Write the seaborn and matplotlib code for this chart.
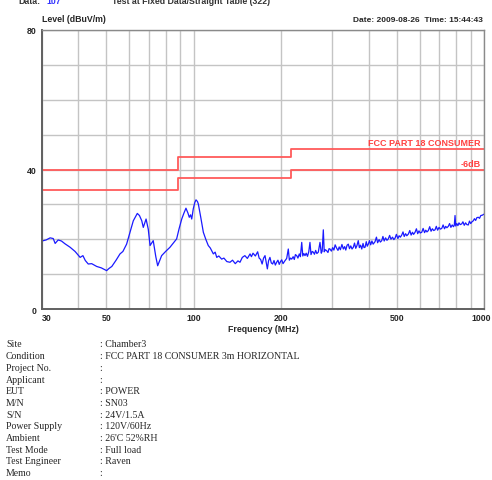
import matplotlib
matplotlib.use("Agg")
import matplotlib.pyplot as plt
import matplotlib.transforms as mtransforms
import seaborn as sns
import pandas as pd

# ---------------- data ----------------
freq_mhz = [
    30.0, 31.0, 32.0, 32.8, 33.3, 34.1, 35.0, 36.0, 37.5, 39.0, 40.6, 41.5, 42.3, 43.3,
    44.5, 46.3, 48.0, 50.1, 51.0, 52.2, 54.0, 55.7, 57.0, 58.7, 60.3, 61.9, 63.0, 63.9,
    65.0, 66.2, 67.0, 68.5, 69.7, 70.7, 72.5, 74.0, 75.1, 77.5, 80.0, 82.8, 85.0, 87.3,
    89.0, 90.9, 92.5, 94.0, 95.5, 96.5, 97.5, 98.4, 99.6, 100.8, 101.8, 103.0, 103.7,
    105.7, 107.9, 110.0, 112.2, 114.0, 116.8, 118.5, 120.0, 122.0, 124.8, 127.0, 130.0,
    133.3, 136.0, 139.0, 142.0, 144.3, 147.0, 150.0, 153.0, 156.3, 158.0, 160.0, 163.0,
    166.0, 168.0,
    170, 172, 174, 176, 178, 179.3, 181, 183, 185, 187, 189, 191, 193, 195, 197, 199,
    201, 203, 206, 209, 211.7, 213.5, 215.5, 217.5, 220, 222, 224, 226.3, 228.5, 231,
    233, 235.5, 237.5, 239.5, 241.7, 244, 246.5, 249, 251.4, 253.5, 256, 258.2, 260.5,
    263, 265.5, 268.6, 272.2, 275, 277, 279.5, 281.5, 284, 287.1, 290, 292.5, 294.7,
    298, 301, 304, 307, 310.8, 314, 317, 320, 324, 327.6, 331, 334, 337.5, 340.8, 344,
    347.5, 351, 354.6, 358, 361.5, 365, 368.8, 372, 375.5, 379.2, 383, 386, 389.2, 393,
    396, 399.4, 403, 407, 411, 415, 421.2, 426, 430, 435, 439.5, 444.2, 448.5, 453, 458,
    463, 468, 473, 478, 484, 489, 493.7, 499, 505, 510, 515, 520.6, 526, 531, 537, 542,
    548.8, 555, 561, 567, 572, 578.7, 585, 591, 597, 603, 610.2, 617, 624, 630, 636, 643,
    650, 657, 664, 671, 678.1, 685, 692, 700, 707, 715.2, 723, 731, 738, 745, 753.3, 761,
    769, 777, 785, 790, 794.7, 799, 806, 813, 820, 828, 837.9, 846, 855, 864, 873, 882.9,
    891, 900, 909, 918.5, 927, 936, 945, 955.9, 965, 975, 986.8, 1000,
]
level_dbuv = [
    19.5, 19.8, 20.4, 20.2, 18.8, 19.8, 19.5, 18.7, 17.7, 16.5, 14.8, 15.3, 13.9, 12.9,
    13.0, 12.2, 11.8, 11.0, 11.6, 12.2, 14.0, 15.8, 16.5, 18.6, 22.0, 25.3, 26.5, 27.4,
    26.8, 25.3, 23.4, 25.8, 22.9, 18.2, 19.6, 15.0, 12.4, 15.3, 16.5, 17.7, 18.9, 20.1,
    23.0, 25.8, 27.5, 28.9, 27.5, 26.3, 27.0, 25.8, 28.7, 30.5, 31.3, 30.8, 30.1,
    26.3, 22.0, 20.0, 18.2, 17.5, 15.8, 16.3, 14.8, 15.2, 14.3, 14.6, 13.6,
    13.4, 14.0, 13.0, 13.8, 13.4, 14.8, 15.3, 14.5, 15.8, 15.0, 16.0, 15.2,
    16.4, 14.6,
    14.2, 12.9, 14.6, 15.3, 13.0, 11.5, 13.8, 14.8, 13.2, 12.9, 13.9, 12.6, 13.4, 14.0, 12.8, 13.6,
    14.1, 13.0, 13.8, 14.5, 17.2, 14.0, 14.6, 14.3, 15.0, 14.2, 15.6, 15.3, 14.6, 15.8,
    15.0, 19.1, 15.2, 15.9, 15.3, 16.0, 15.1, 16.4, 19.1, 15.6, 16.5, 16.3, 15.7,
    16.8, 15.9, 16.3, 19.1, 16.0, 16.6, 22.7, 16.4, 17.0, 16.7, 16.2, 17.3, 17.2,
    16.6, 17.6, 16.9, 18.4, 17.4, 16.8, 17.8, 17.0, 18.5, 17.2, 17.9, 16.9, 18.3, 18.6, 17.3,
    18.1, 17.2, 17.7, 18.9, 17.4, 18.2, 19.6, 17.6, 18.3, 17.2, 18.8, 17.6, 17.7, 19.3,
    18.0, 18.6, 19.6, 18.4, 19.5, 18.6, 19.3, 20.6, 19.0, 19.9, 19.2, 19.6, 20.8, 19.5, 20.4,
    19.7, 20.1, 21.1, 20.0, 20.6, 19.9, 20.3, 21.4, 20.2, 21.0, 20.6, 21.2, 22.1, 20.8, 21.6, 21.0,
    21.5, 22.5, 21.2, 22.0, 21.4, 22.0, 23.0, 21.6, 22.4, 21.8, 22.0, 23.1, 21.9, 22.6, 22.1, 22.5,
    23.6, 22.3, 23.0, 22.5, 22.7, 23.7, 22.6, 23.4, 22.9, 23.1, 24.1, 23.0, 23.7, 23.3, 23.7, 24.5,
    23.4, 24.1, 23.6, 24.0, 26.8, 23.8, 24.5, 23.9, 24.7, 24.2, 24.4, 25.0, 24.0, 24.7, 24.2, 24.1,
    25.2, 24.5, 25.0, 25.3, 25.9, 25.4, 26.2, 26.3, 26.0, 26.8, 26.9, 27.2,
]
limit_freq = [30, 88, 216, 1000]
limit_level = [40, 43.5, 46, 46]
margin_level = [34, 37.5, 40, 40]

major_ticks = [30, 50, 100, 200, 500, 1000]
major_labels = ["30", "50", "100", "200", "500", "1000"]
grid_ticks = [40, 60, 70, 80, 90, 300, 400, 600, 700, 800, 900]
y_ticks = [0, 40, 80]

info_labels = ["Site", "Condition", "Project No.", "Applicant", "EUT", "M/N", "S/N",
               "Power Supply", "Ambient", "Test Mode", "Test Engineer", "Memo"]
info_values = ["Chamber3", "FCC PART 18 CONSUMER 3m HORIZONTAL", "", "", "POWER",
               "SN03", "24V/1.5A", "120V/60Hz", "26'C 52%RH", "Full load", "Raven", ""]

# ---------------- plot ----------------
sns.set_style("white")
plt.rcParams["font.family"] = ["Liberation Sans", "DejaVu Sans"]

W, H = 492, 481
fig = plt.figure(figsize=(W / 100, H / 100), dpi=100)
ax = fig.add_axes([42 / W, 1 - 310 / H, (484 - 42) / W, (310 - 31) / H])

meas = pd.DataFrame({"f": freq_mhz, "lvl": level_dbuv})
lim = pd.DataFrame({"f": limit_freq, "lim": limit_level, "mar": margin_level})

sns.lineplot(data=lim, x="f", y="lim", ax=ax, color="#ff5a5a", lw=1.3,
             drawstyle="steps-post", sort=False, estimator=None)
sns.lineplot(data=lim, x="f", y="mar", ax=ax, color="#ff5a5a", lw=1.3,
             drawstyle="steps-post", sort=False, estimator=None)
sns.lineplot(data=meas, x="f", y="lvl", ax=ax, color="#1a1aff", lw=0.9,
             sort=False, estimator=None)

ax.set_xscale("log")
ax.set_xlim(30, 1000)
ax.set_ylim(0, 80)
ax.set_xticks(major_ticks)
ax.set_xticklabels(major_labels)
ax.set_xticks(grid_ticks, minor=True)
ax.set_xticklabels([], minor=True)
ax.set_yticks(list(range(0, 81, 10)))
ax.set_yticklabels([str(v) if v in y_ticks else "" for v in range(0, 81, 10)])
ax.grid(True, which="both", color="#c4c4c4", lw=1.0)
ax.set_axisbelow(True)
ax.tick_params(axis="both", which="both", length=0, labelsize=6.3)
ax.tick_params(axis="x", pad=3)
ax.tick_params(axis="y", pad=4)
for lab in ax.get_xticklabels() + ax.get_yticklabels():
    lab.set_fontweight("bold")
xl = ax.get_xticklabels()
xl[0].set_ha("left")
xl[-1].set_ha("right")
xl[-1].set_transform(xl[-1].get_transform() +
                     mtransforms.ScaledTranslation(7 / 100, 0, fig.dpi_scale_trans))
ax.set_xlabel("Frequency (MHz)", fontsize=6.3, fontweight="bold", labelpad=1)
ax.set_ylabel("")
for s in ["top", "right"]:
    ax.spines[s].set_color("#8a8a8a")
    ax.spines[s].set_linewidth(1.0)
for s in ["left", "bottom"]:
    ax.spines[s].set_color("#606060")
    ax.spines[s].set_linewidth(1.4)

ax.text(0.992, 46.5, "FCC PART 18 CONSUMER", transform=ax.get_yaxis_transform(),
        color="#ff4040", fontsize=6.5, fontweight="bold", ha="right", va="bottom")
ax.text(0.992, 40.5, "-6dB", transform=ax.get_yaxis_transform(),
        color="#ff4040", fontsize=6.5, fontweight="bold", ha="right", va="bottom")

fig.text(42 / W, 1 - 20 / H, "Level (dBuV/m)", fontsize=6.3, fontweight="bold",
         ha="left", va="center")
fig.text(483 / W, 1 - 20 / H, "Date: 2009-08-26  Time: 15:44:43", fontsize=6.0,
         fontweight="bold", ha="right", va="center")
# header line clipped at the top edge of the picture (as in the reference)
fig.text(18 / W, 1 - 1 / H, "Data:", fontsize=6.3, fontweight="bold", ha="left",
         va="center", color="#333333")
fig.text(46 / W, 1 - 1 / H, "107", fontsize=6.3, fontweight="bold", ha="left",
         va="center", color="#3333ff")
fig.text(112 / W, 1 - 1 / H, "Test at Fixed Data/Straight Table (322)", fontsize=6.3,
         fontweight="bold", ha="left", va="center", color="#333333")

serif = ["Liberation Serif", "DejaVu Serif"]
y0 = 345
dy = 11.7
for i, (lab, val) in enumerate(zip(info_labels, info_values)):
    yy = 1 - (y0 + i * dy) / H
    fig.text(6 / W, yy, lab, family=serif, fontsize=7.1, ha="left", va="center")
    fig.text(100 / W, yy, ": " + val, family=serif, fontsize=7.1, ha="left", va="center")

fig.savefig("out.png", dpi=100)
